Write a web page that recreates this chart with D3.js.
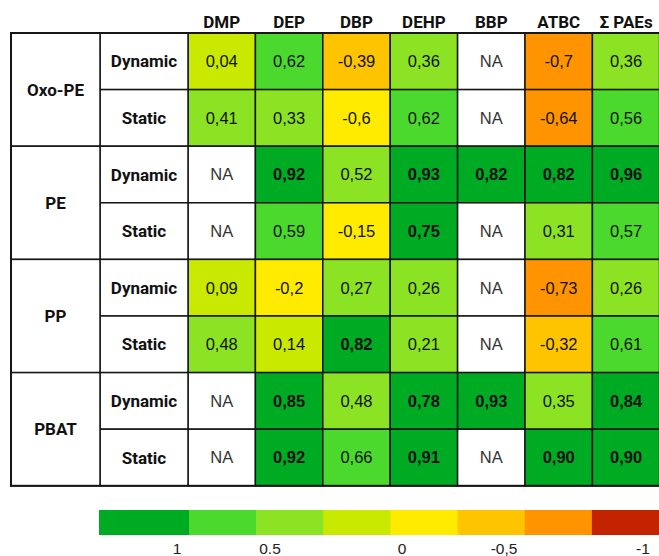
<!DOCTYPE html>
<html>
<head>
<meta charset="utf-8">
<script src="https://cdn.jsdelivr.net/npm/d3@7"></script>
<style>
  body { margin: 0; background: #fff; }
  svg { display: block; }
</style>
</head>
<body>
<div id="chart"></div>
<script>
const columns = ['DMP', 'DEP', 'DBP', 'DEHP', 'BBP', 'ATBC', 'Σ PAEs'];
const polymers = ['Oxo-PE', 'PE', 'PP', 'PBAT'];
const modes = ['Dynamic', 'Static'];

// one row per polymer x mode, null = NA
const values = [
  ['0.04', '0.62', '-0.39', '0.36', null, '-0.7', '0.36'],
  ['0.41', '0.33', '-0.6', '0.62', null, '-0.64', '0.56'],
  [null, '0.92', '0.52', '0.93', '0.82', '0.82', '0.96'],
  [null, '0.59', '-0.15', '0.75', null, '0.31', '0.57'],
  ['0.09', '-0.2', '0.27', '0.26', null, '-0.73', '0.26'],
  ['0.48', '0.14', '0.82', '0.21', null, '-0.32', '0.61'],
  [null, '0.85', '0.48', '0.78', '0.93', '0.35', '0.84'],
  [null, '0.92', '0.66', '0.91', null, '0.90', '0.90']
];

// colour class of each cell as shown (0 = darkest green ... 7 = red)
const bins = [
  [3, 1, 5, 2, null, 6, 2],
  [2, 2, 4, 1, null, 6, 1],
  [null, 0, 2, 0, 0, 0, 0],
  [null, 1, 4, 0, null, 2, 1],
  [3, 4, 2, 2, null, 6, 2],
  [2, 3, 0, 2, null, 5, 1],
  [null, 0, 2, 0, 0, 2, 0],
  [null, 0, 1, 0, null, 0, 0]
];

const palette = ['#00ab24', '#4bd92d', '#8be323', '#c9ea00', '#ffeb00', '#ffc400', '#ff9400', '#c42300'];
const legendTicks = ['1', '0.5', '0', '-0,5', '-1'];
const legendTickValues = [1, 0.5, 0, -0.5, -1];

const width = 659, height = 556;
const tableLeft = 11, groupW = 89, modeW = 88, colW = 67.4;
const tableTop = 33, rowH = 56.6;

const svg = d3.select('#chart').append('svg')
  .attr('width', width)
  .attr('height', height);

const dataLeft = tableLeft + groupW + modeW;
const x = d3.scaleBand()
  .domain(columns)
  .range([dataLeft, dataLeft + colW * columns.length]);

const rowKeys = [];
polymers.forEach(p => modes.forEach(m => rowKeys.push(p + '|' + m)));
const y = d3.scaleBand()
  .domain(rowKeys)
  .range([tableTop, tableTop + rowH * rowKeys.length]);

const color = d3.scaleOrdinal().domain(d3.range(palette.length)).range(palette);

const cells = [];
values.forEach((row, r) => {
  row.forEach((v, c) => {
    cells.push({row: rowKeys[r], col: columns[c], label: v, bin: bins[r][c]});
  });
});

const gCells = svg.append('g').attr('class', 'g_cells');

gCells.selectAll('.cell')
  .data(cells)
  .enter()
  .append('rect')
  .attr('class', 'cell')
  .attr('x', d => x(d.col))
  .attr('y', d => y(d.row))
  .attr('width', x.bandwidth())
  .attr('height', y.bandwidth())
  .style('fill', d => d.bin == null ? '#fff' : color(d.bin))
  .style('stroke', '#161616')
  .style('stroke-width', 1.5);

gCells.selectAll('.cell_text')
  .data(cells)
  .enter()
  .append('text')
  .attr('class', 'cell_text')
  .attr('x', d => x(d.col) + x.bandwidth() / 2)
  .attr('y', d => y(d.row) + y.bandwidth() / 2)
  .attr('dy', '0.36em')
  .attr('text-anchor', 'middle')
  .style('font-family', '"Liberation Sans", Arial, sans-serif')
  .style('font-size', '16.5px')
  .style('font-weight', d => d.bin === 0 ? 'bold' : 'normal')
  .style('fill', d => d.label == null ? '#333' : '#111')
  .text(d => d.label == null ? 'NA' : d.label.replace('.', ','));

// column headers
svg.append('g')
  .selectAll('text')
  .data(columns)
  .enter()
  .append('text')
  .attr('x', d => x(d) + x.bandwidth() / 2)
  .attr('y', 28)
  .attr('text-anchor', 'middle')
  .style('font-family', 'Roboto, sans-serif')
  .style('font-size', '17px')
  .style('font-weight', 'bold')
  .style('fill', '#111')
  .text(d => d);

// mode labels
const gModes = svg.append('g');
gModes.selectAll('rect')
  .data(rowKeys)
  .enter()
  .append('rect')
  .attr('x', tableLeft + groupW)
  .attr('y', d => y(d))
  .attr('width', modeW)
  .attr('height', y.bandwidth())
  .style('fill', '#fff')
  .style('stroke', '#161616')
  .style('stroke-width', 1.5);
gModes.selectAll('text')
  .data(rowKeys)
  .enter()
  .append('text')
  .attr('x', tableLeft + groupW + modeW / 2)
  .attr('y', d => y(d) + y.bandwidth() / 2)
  .attr('dy', '0.36em')
  .attr('text-anchor', 'middle')
  .style('font-family', 'Roboto, sans-serif')
  .style('font-size', '17px')
  .style('font-weight', 'bold')
  .style('fill', '#111')
  .text(d => d.split('|')[1]);

// polymer group labels
const gGroups = svg.append('g');
gGroups.selectAll('rect')
  .data(polymers)
  .enter()
  .append('rect')
  .attr('x', tableLeft)
  .attr('y', d => y(d + '|' + modes[0]))
  .attr('width', groupW)
  .attr('height', y.bandwidth() * modes.length)
  .style('fill', '#fff')
  .style('stroke', '#161616')
  .style('stroke-width', 1.5);
gGroups.selectAll('text')
  .data(polymers)
  .enter()
  .append('text')
  .attr('x', tableLeft + groupW / 2)
  .attr('y', d => y(d + '|' + modes[0]) + y.bandwidth())
  .attr('dy', '0.36em')
  .attr('text-anchor', 'middle')
  .style('font-family', 'Roboto, sans-serif')
  .style('font-size', '17px')
  .style('font-weight', 'bold')
  .style('fill', '#111')
  .text(d => d);

// outer frame
svg.append('rect')
  .attr('x', tableLeft)
  .attr('y', tableTop)
  .attr('width', groupW + modeW + colW * columns.length)
  .attr('height', rowH * rowKeys.length)
  .style('fill', 'none')
  .style('stroke', '#161616')
  .style('stroke-width', 2);

// legend
const legendLeft = 99, legendTop = 510, legendH = 25;
const xLegend = d3.scaleLinear().domain([0, palette.length]).range([122, 659]);

svg.append('g')
  .selectAll('rect')
  .data(palette)
  .enter()
  .append('rect')
  .attr('x', (d, i) => i === 0 ? legendLeft : xLegend(i))
  .attr('y', legendTop)
  .attr('width', (d, i) => xLegend(i + 1) - (i === 0 ? legendLeft : xLegend(i)) + 0.5)
  .attr('height', legendH)
  .style('fill', d => d);

const xLegendTick = d3.scaleLinear()
  .domain(legendTickValues)
  .range([177, 270, 402, 504, 643]);

svg.append('g')
  .selectAll('text')
  .data(legendTicks)
  .enter()
  .append('text')
  .attr('x', (d, i) => xLegendTick(legendTickValues[i]))
  .attr('y', 554)
  .attr('text-anchor', 'middle')
  .style('font-family', '"Liberation Sans", Arial, sans-serif')
  .style('font-size', '15.5px')
  .style('fill', '#222')
  .text(d => d);
</script>
</body>
</html>
